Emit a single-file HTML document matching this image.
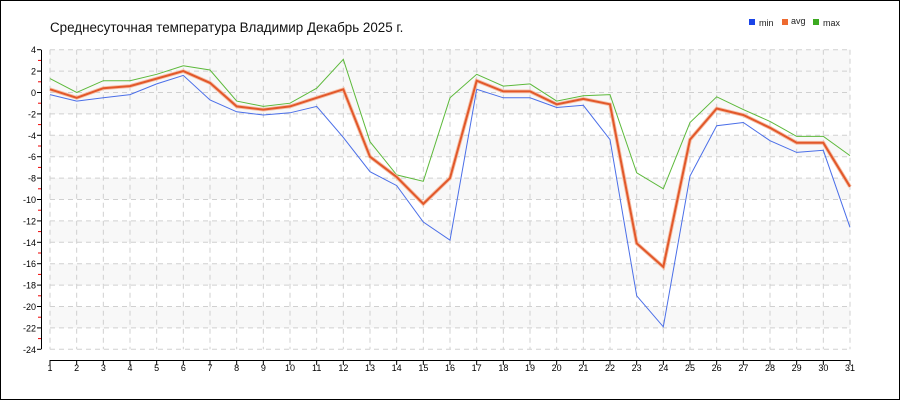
<!DOCTYPE html><html><head><meta charset="utf-8"><style>body{margin:0}svg{display:block}</style></head><body>
<svg width="900" height="400" xmlns="http://www.w3.org/2000/svg" font-family="Liberation Sans, DejaVu Sans, sans-serif">
<rect x="0.5" y="0.5" width="899" height="399" fill="#fff" stroke="#000"/>
<text x="50" y="32" font-size="13.4" fill="#111">Среднесуточная температура Владимир  Декабрь 2025 г.</text>
<rect x="749" y="19" width="6" height="6" fill="#1a44e8"/><text x="759" y="26" font-size="9" fill="#222">min</text>
<rect x="782" y="19" width="6" height="6" fill="#ee6a30"/><text x="791" y="24" font-size="9" fill="#222">avg</text>
<rect x="813" y="19" width="6" height="6" fill="#3caa20"/><text x="823" y="26" font-size="9" fill="#222">max</text>
<g id="plot"></g>
</svg>
<script>
const NS="http://www.w3.org/2000/svg",g=document.getElementById('plot');
function el(t,a,txt){const e=document.createElementNS(NS,t);for(const k in a)e.setAttribute(k,a[k]);if(txt!=null)e.textContent=txt;g.appendChild(e);return e;}
const X=d=>50+(d-1)*800/30,Y=v=>92.5-v*10.7;
el('rect',{x:50,y:Y(4),width:800,height:Y(-2)-Y(4),fill:'#f8f8f8'});
for(let v=-4;v>-24;v-=4)el('rect',{x:50,y:Y(v),width:800,height:Y(v-2)-Y(v),fill:'#f8f8f8'});
for(let v=4;v>=-24;v-=2)el('line',{x1:50,x2:850,y1:Y(v),y2:Y(v),stroke:'#d0d0d0','stroke-dasharray':'5,4'});
for(let d=1;d<=31;d++)el('line',{x1:X(d),x2:X(d),y1:Y(4),y2:Y(-24),stroke:'#d0d0d0','stroke-dasharray':'5,4'});
el('line',{x1:41.5,x2:41.5,y1:Y(4),y2:Y(-24),stroke:'#000'});
for(let v=4;v>=-24;v-=2){el('line',{x1:37,x2:41,y1:Y(v),y2:Y(v),stroke:'#000'});el('text',{x:36,y:Y(v)+3.5,'font-size':9,'text-anchor':'end',fill:'#000'},v);}
for(let v=3;v>-24;v-=2)el('line',{x1:38,x2:41,y1:Y(v),y2:Y(v),stroke:'#e00'});
el('line',{x1:50,x2:850,y1:360.5,y2:360.5,stroke:'#000'});
for(let d=1;d<=31;d++){el('line',{x1:X(d),x2:X(d),y1:360,y2:365,stroke:'#000'});el('text',{x:X(d),y:371,'font-size':9,'text-anchor':'middle',fill:'#000'},d);}
const mn=[-0.2,-0.8,-0.5,-0.2,0.8,1.6,-0.7,-1.8,-2.1,-1.9,-1.3,-4.2,-7.4,-8.7,-12.1,-13.8,0.3,-0.5,-0.5,-1.4,-1.2,-4.4,-19,-21.9,-7.8,-3.1,-2.8,-4.5,-5.6,-5.4,-12.6];
const av=[0.3,-0.5,0.4,0.6,1.3,2.0,0.9,-1.3,-1.6,-1.3,-0.5,0.3,-6,-7.9,-10.4,-8,1.1,0.1,0.1,-1.1,-0.6,-1.1,-14.1,-16.3,-4.4,-1.5,-2.1,-3.3,-4.7,-4.7,-8.8];
const mx=[1.3,0,1.1,1.1,1.7,2.5,2.1,-0.8,-1.3,-1,0.4,3.1,-4.6,-7.7,-8.3,-0.5,1.7,0.6,0.8,-0.8,-0.3,-0.2,-7.5,-9,-2.8,-0.4,-1.6,-2.7,-4.1,-4.1,-5.9];
const pts=a=>a.map((v,i)=>X(i+1).toFixed(1)+','+Y(v).toFixed(1)).join(' ');
el('polyline',{points:pts(mx),fill:'none',stroke:'#5cb93a','stroke-width':1});
el('polyline',{points:pts(mn),fill:'none',stroke:'#4a6ee8','stroke-width':1});
el('polyline',{points:pts(av),fill:'none',stroke:'#f5c0a8','stroke-width':3.8});
el('polyline',{points:pts(av),fill:'none',stroke:'#e2582a','stroke-width':2});
</script>
</body></html>
